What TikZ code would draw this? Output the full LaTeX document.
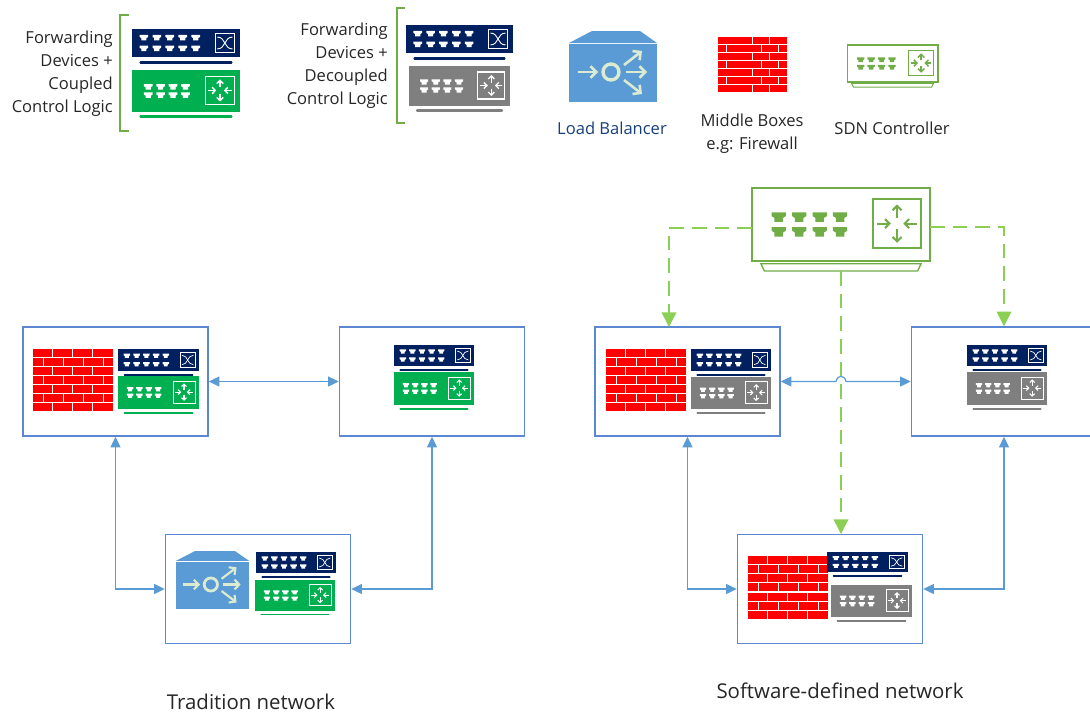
\documentclass[tikz,border=0pt]{standalone}
\usepackage{fontspec}
\setmainfont{Open Sans}
\usetikzlibrary{arrows.meta,calc}
\definecolor{navyc}{HTML}{002060}
\definecolor{greenc}{HTML}{00B050}
\definecolor{greyc}{HTML}{7F7F7F}
\definecolor{lbblue}{HTML}{5B9BD5}
\definecolor{boxblue}{HTML}{5B88D0}
\definecolor{linkblue}{HTML}{5B9BD5}
\definecolor{ctlgreen}{HTML}{70AD47}
\definecolor{dashgreen}{HTML}{8CCF55}
\definecolor{lbarrow}{HTML}{DCEBD0}
\definecolor{txt}{HTML}{262626}
\tikzset{
  x=0.75pt,y=-0.75pt,
  netbox/.style={draw=boxblue,line width=1.1pt,minimum width=138.75pt,minimum height=81.75pt,inner sep=0pt},
  biarrow/.style={draw=linkblue,line width=0.9pt,{Triangle[length=8pt,width=7.5pt]}-{Triangle[length=8pt,width=7.5pt]}},
  ctllink/.style={draw=dashgreen,line width=1.1pt,dash pattern=on 11pt off 6pt,-{Triangle[length=11pt,width=11pt]}},
  label/.style={font=\fontsize{12.4}{17.25}\selectfont,text=txt,inner sep=0pt},
  caption/.style={font=\fontsize{15.3}{18}\selectfont,text=txt,inner sep=0pt},
  bracket/.style={draw=ctlgreen,line width=1.1pt},
}
\newcommand{\onePort}[3]{\fill[#3,shift={(#1,#2)}] (-4,-2.6)--(4,-2.6)--(4,-0.6)--(2.4,0.4)--(2.4,2.6)--(-2.4,2.6)--(-2.4,0.4)--(-4,-0.6)--cycle;}
\newcommand{\navySw}[4]{%
  \pgfmathsetlengthmacro{\ilw}{#3*0.008pt}
  \begin{scope}[shift={(#1,#2)},xscale=#3/100,yscale=#4/26]
    \fill[navyc] (0,0) rectangle (100,26);
    \draw[navyc,line width=2.2*\ilw,line cap=round] (8,31)--(92,31);
    \foreach \px in {11,23,35,47,59}{\onePort{\px}{8}{white}\onePort{\px}{18}{white}}
    \draw[white,line width=\ilw] (77,4) rectangle (95,22);
    \draw[white,line width=0.8*\ilw] (79,7.5) .. controls (87,7.5) and (85,18.5) .. (93,18.5);
    \draw[white,line width=0.8*\ilw] (79,18.5) .. controls (87,18.5) and (85,7.5) .. (93,7.5);
  \end{scope}}
\newcommand{\routerIn}[2]{%
    \foreach \px in {15,26.5,38,49.5}{\onePort{\px}{16}{#1}\onePort{\px}{24}{#1}}
    \draw[#2,line width=\ilw] (68,6) rectangle (95,33);
    \begin{scope}[#2,line width=1.25*\ilw,-{Straight Barb[length=0pt 2.2 0,width=0pt 4.5 0]}]
      \draw (81.5,16.5)--(81.5,9);
      \draw (81.5,22.5)--(81.5,30);
      \draw (70.5,19.5)--(78,19.5);
      \draw (92.5,19.5)--(85,19.5);
    \end{scope}}
\newcommand{\solidRt}[5]{%
  \pgfmathsetlengthmacro{\ilw}{#3*0.008pt}
  \begin{scope}[shift={(#1,#2)},xscale=#3/100,yscale=#4/40]
    \fill[#5] (0,0) rectangle (100,40);
    \draw[#5,line width=2.2*\ilw,line cap=round] (8,44.5)--(92,44.5);
    \routerIn{white}{white}
  \end{scope}}
\newcommand{\outlineIn}[4]{%
  \pgfmathsetlengthmacro{\ilw}{#3*0.004pt+0.5pt}
  \begin{scope}[shift={(#1,#2)},xscale=#3/100,yscale=#4/40]
    \routerIn{ctlgreen}{ctlgreen}
    \draw[ctlgreen,line width=0.85*\ilw] (5,41.5)--(95,41.5)--(93,45.5)--(7,45.5)--cycle;
  \end{scope}}
\newcommand{\brickWall}[4]{%
  \begin{scope}[shift={(#1,#2)},xscale=#3/100,yscale=#4/70]
    \foreach \r in {0,2,4,6}{
      \foreach \a/\b in {0/24,25.3/49,50.3/74,75.3/100}{\fill[red] (\a,\r*10) rectangle (\b,\r*10+8.8);}}
    \foreach \r in {1,3,5}{
      \foreach \a/\b in {0/12,13.3/37,38.3/62,63.3/87,88.3/100}{\fill[red] (\a,\r*10) rectangle (\b,\r*10+8.8);}}
  \end{scope}}
\newcommand{\loadBal}[4]{%
  \pgfmathsetlengthmacro{\ilw}{#3*0.022pt}
  \begin{scope}[shift={(#1,#2)},xscale=#3/88,yscale=#4/71]
    \fill[lbblue] (0,12)--(23,0)--(71,0)--(88,12)--cycle;
    \fill[lbblue] (0,13) rectangle (88,71);
    \draw[lbarrow,line width=1.3*\ilw] (42,41) ellipse (8 and 8);
    \begin{scope}[lbarrow,line width=\ilw,-{Straight Barb[length=0pt 2.2 0,width=0pt 4.5 0]}]
      \draw (9,41)--(29,41);
      \draw (57,41)--(78,41);
      \draw (55,34)--(73,20);
      \draw (55,49)--(73,63);
    \end{scope}
  \end{scope}}
\begin{document}
\begin{tikzpicture}
\useasboundingbox (0,0) rectangle (1090,715);
% legend
\node[label,align=right,anchor=east] (leg1) at (113,74) {Forwarding\\Devices +\\Coupled\\Control Logic};
\draw[bracket] (129,15)--(120,15)--(120,131)--(129,131);
\navySw{132}{29}{108}{28}
\solidRt{132}{70}{108}{42}{greenc}
\node[label,align=right,anchor=east] (leg2) at (388,66) {Forwarding\\Devices +\\Decoupled\\Control Logic};
\draw[bracket] (405,8)--(397,8)--(397,123)--(405,123);
\navySw{406}{25}{107}{28}
\solidRt{409}{66}{101}{40}{greyc}
\loadBal{569}{31}{88}{71}
\node[label,text=navyc!75!lbblue] (lblb) at (612,128) {Load Balancer};
\brickWall{718}{37}{69}{56}
\node[label,align=center] (lbmb) at (752,133.5) {Middle Boxes\\e.g: Firewall};
\node[draw=ctlgreen,line width=1pt,minimum width=68pt,minimum height=27.75pt,inner sep=0pt] (lctl) at (892.5,63.5) {};
\outlineIn{847}{45}{91}{37}
\node[label] (lbsc) at (892,128) {SDN Controller};
% boxes
\node[netbox] (b1) at (115.5,381.5) {};
\node[netbox] (b2) at (432,381.5) {};
\node[netbox] (b3) at (258,589) {};
\node[netbox] (r1) at (687.5,381.5) {};
\node[netbox] (r2) at (1004,381.5) {};
\node[netbox] (r3) at (830,589) {};
% box contents
\brickWall{33}{349}{80}{63}
\navySw{118}{349}{81}{22}
\solidRt{118}{376}{81}{33}{greenc}
\navySw{394}{345}{80}{21}
\solidRt{394}{372}{80}{33}{greenc}
\loadBal{176}{551}{73}{58}
\navySw{256}{552}{80}{21}
\solidRt{255}{580}{80}{31}{greenc}
\brickWall{606}{349}{80}{63}
\navySw{691}{349}{80}{22}
\solidRt{691}{377}{80}{32}{greyc}
\navySw{967}{345}{80}{21}
\solidRt{967}{372}{80}{33}{greyc}
\brickWall{748}{556}{80}{64}
\navySw{827}{552}{81}{20}
\solidRt{831}{585}{81}{32}{greyc}
% big controller
\node[draw=ctlgreen,line width=1.2pt,minimum width=133.5pt,minimum height=54.75pt,inner sep=0pt] (ctl) at (841,224.5) {};
\outlineIn{752}{188}{178}{73}
% blue links
\draw[biarrow] (b1.east)--(b2.west);
\draw[biarrow] (b1.south)|-(b3.west);
\draw[biarrow] (b2.south)|-(b3.east);
\coordinate (hs) at (836,381.5);
\coordinate (he) at (846,381.5);
\draw[biarrow] (r1.east)--(hs) .. controls +(1.5,-7) and +(-1.5,-7) .. (he)--(r2.west);
\draw[biarrow] (r1.south)|-(r3.west);
\draw[biarrow] (r2.south)|-(r3.east);
% dashed links
\coordinate (ctll) at (752,228);
\coordinate (ctlr) at (930,227);
\coordinate (r1in) at (669,327);
\coordinate (ctld) at (841,271);
\coordinate (r3in) at (841,534);
\draw[ctllink] (ctll)-|(r1in);
\draw[ctllink] (ctlr)-|(r2.north);
\draw[ctllink] (ctld)--(r3in);
% captions
\node[caption] (cap1) at (251,702) {Tradition network};
\node[caption] (cap2) at (840,691) {Software-defined network};
\end{tikzpicture}
\end{document}
